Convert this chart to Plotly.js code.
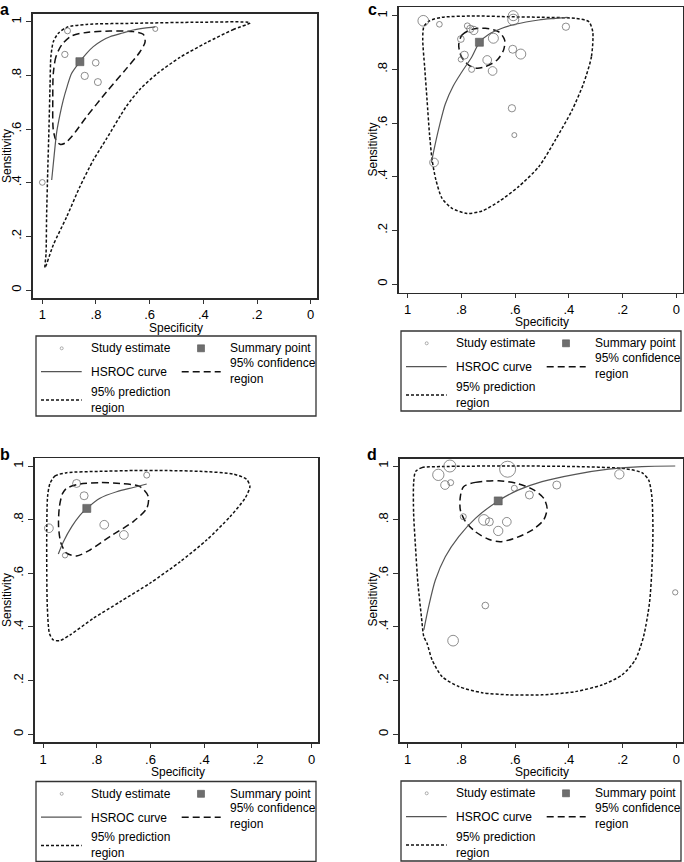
<!DOCTYPE html>
<html><head><meta charset="utf-8">
<script src="https://cdn.plot.ly/plotly-3.0.1.min.js"></script>
<style>html,body{margin:0;padding:0;background:#fff}#chart{width:684px;height:862px}</style>
</head><body><div id="chart"></div>
<script>
// ---------------- data ----------------
const tickVals = [0, 0.2, 0.4, 0.6, 0.8, 1];
const tickText = ['0', '.2', '.4', '.6', '.8', '1'];
const xTitle = 'Specificity';
const yTitle = 'Sensitivity';
const legendLabels = ['Study estimate', 'Summary point', 'HSROC curve', '95% confidence<br>region', '95% prediction<br>region'];

// Panel a
const aStudySpec = [0.906, 0.579, 0.916, 0.801, 0.842, 0.793, 1.0];
const aStudySens = [0.966, 0.973, 0.878, 0.847, 0.798, 0.775, 0.401];
const aStudyWeight = [6, 5, 6.3, 6.7, 7.3, 7, 5.7];
const aSummarySpec = [0.860];
const aSummarySens = [0.851];
const aHsrocSpec = [0.965, 0.956, 0.947, 0.935, 0.922, 0.907, 0.891, 0.860, 0.835, 0.810, 0.780, 0.748, 0.700, 0.661, 0.620, 0.579];
const aHsrocSens = [0.410, 0.500, 0.584, 0.650, 0.708, 0.760, 0.807, 0.851, 0.882, 0.907, 0.928, 0.944, 0.958, 0.969, 0.976, 0.981];
const aConfSpec = [0.928, 0.949, 0.959, 0.961, 0.959, 0.949, 0.934, 0.916, 0.891, 0.835, 0.760, 0.686, 0.636, 0.617, 0.624, 0.661, 0.748, 0.835, 0.891, 0.928];
const aConfSens = [0.913, 0.870, 0.807, 0.708, 0.596, 0.559, 0.543, 0.547, 0.571, 0.646, 0.739, 0.826, 0.888, 0.925, 0.953, 0.963, 0.965, 0.960, 0.947, 0.913];
const aPredSpec = [0.226, 0.288, 0.388, 0.487, 0.574, 0.636, 0.686, 0.760, 0.810, 0.860, 0.909, 0.959, 0.990, 0.986, 0.984, 0.980, 0.975, 0.971, 0.968, 0.959, 0.940, 0.909, 0.835, 0.661, 0.412, 0.226];
const aPredSens = [0.996, 0.971, 0.922, 0.867, 0.805, 0.748, 0.686, 0.565, 0.484, 0.385, 0.273, 0.168, 0.083, 0.137, 0.273, 0.435, 0.609, 0.770, 0.870, 0.925, 0.957, 0.979, 0.990, 0.994, 0.998, 0.996];

// Panel b
const bStudySpec = [0.614, 0.875, 0.847, 0.978, 0.772, 0.699, 0.918];
const bStudySens = [0.966, 0.935, 0.889, 0.768, 0.781, 0.743, 0.667];
const bStudyWeight = [6, 8, 8, 8.7, 8.7, 8.7, 5.3];
const bSummarySpec = [0.837];
const bSummarySens = [0.842];
const bHsrocSpec = [0.943, 0.924, 0.893, 0.862, 0.837, 0.788, 0.726, 0.664, 0.614];
const bHsrocSens = [0.672, 0.718, 0.774, 0.817, 0.842, 0.880, 0.904, 0.920, 0.933];
const bConfSpec = [0.912, 0.862, 0.788, 0.713, 0.639, 0.608, 0.614, 0.664, 0.751, 0.825, 0.875, 0.912, 0.933, 0.942, 0.939, 0.927, 0.912];
const bConfSens = [0.917, 0.933, 0.938, 0.935, 0.923, 0.886, 0.842, 0.793, 0.737, 0.687, 0.665, 0.675, 0.712, 0.774, 0.848, 0.898, 0.917];
const bPredSpec = [0.974, 0.955, 0.912, 0.788, 0.664, 0.540, 0.416, 0.292, 0.242, 0.230, 0.248, 0.304, 0.391, 0.490, 0.602, 0.713, 0.813, 0.900, 0.937, 0.962, 0.976, 0.984, 0.986, 0.986, 0.983, 0.974];
const bPredSens = [0.935, 0.963, 0.975, 0.980, 0.983, 0.983, 0.980, 0.970, 0.950, 0.923, 0.880, 0.811, 0.724, 0.643, 0.563, 0.494, 0.432, 0.370, 0.349, 0.352, 0.376, 0.476, 0.612, 0.761, 0.886, 0.935];

// Panel c
const cStudySpec = [0.942, 0.882, 0.778, 0.767, 0.754, 0.802, 0.681, 0.607, 0.607, 0.411, 0.609, 0.579, 0.789, 0.802, 0.704, 0.762, 0.684, 0.612, 0.603, 0.902];
const cStudySens = [0.981, 0.968, 0.962, 0.951, 0.945, 0.913, 0.916, 1.000, 0.985, 0.959, 0.875, 0.857, 0.853, 0.837, 0.835, 0.800, 0.794, 0.655, 0.555, 0.453];
const cStudyWeight = [10.7, 5.7, 6, 7.3, 8.3, 6.7, 10, 10, 11, 7.3, 8, 10, 8, 5.3, 8.7, 6, 8.7, 7.3, 5, 8.7];
const cSummarySpec = [0.733];
const cSummarySens = [0.901];
const cHsrocSpec = [0.912, 0.897, 0.881, 0.860, 0.831, 0.798, 0.761, 0.733, 0.699, 0.649, 0.600, 0.512, 0.450, 0.405];
const cHsrocSens = [0.452, 0.524, 0.593, 0.671, 0.737, 0.791, 0.847, 0.901, 0.930, 0.953, 0.968, 0.984, 0.990, 0.994];
const cConfSpec = [0.810, 0.798, 0.761, 0.711, 0.661, 0.639, 0.643, 0.667, 0.711, 0.742, 0.773, 0.800, 0.810];
const cConfSens = [0.891, 0.928, 0.949, 0.953, 0.940, 0.909, 0.872, 0.835, 0.810, 0.804, 0.816, 0.847, 0.891];
const cPredSpec = [0.311, 0.316, 0.345, 0.388, 0.450, 0.512, 0.587, 0.661, 0.723, 0.779, 0.835, 0.872, 0.895, 0.909, 0.919, 0.928, 0.937, 0.944, 0.940, 0.919, 0.872, 0.748, 0.624, 0.500, 0.376, 0.326, 0.311];
const cPredSens = [0.940, 0.847, 0.748, 0.648, 0.537, 0.437, 0.363, 0.307, 0.272, 0.263, 0.282, 0.319, 0.388, 0.462, 0.561, 0.686, 0.810, 0.909, 0.959, 0.981, 0.994, 0.999, 0.996, 0.994, 0.990, 0.978, 0.940];

// Panel d
const dStudySpec = [0.886, 0.843, 0.861, 0.840, 0.628, 0.603, 0.547, 0.445, 0.212, 0.793, 0.716, 0.696, 0.631, 0.663, 0.711, 0.831, 0.004];
const dStudySens = [0.967, 1.000, 0.929, 0.938, 0.988, 0.917, 0.892, 0.929, 0.969, 0.811, 0.799, 0.792, 0.792, 0.758, 0.480, 0.349, 0.529];
const dStudyWeight = [11.3, 12, 8.7, 6, 16, 6, 8, 8, 9.3, 6, 10.7, 8, 8.7, 9.3, 6.7, 10.7, 5.3];
const dSummarySpec = [0.663];
const dSummarySens = [0.870];
const dHsrocSpec = [0.940, 0.922, 0.897, 0.860, 0.810, 0.748, 0.663, 0.587, 0.500, 0.376, 0.252, 0.128, 0.004];
const dHsrocSens = [0.389, 0.476, 0.575, 0.662, 0.737, 0.805, 0.870, 0.911, 0.942, 0.969, 0.988, 0.998, 1.000];
const dConfSpec = [0.792, 0.748, 0.661, 0.593, 0.531, 0.494, 0.481, 0.494, 0.537, 0.593, 0.655, 0.699, 0.748, 0.785, 0.804, 0.804, 0.792];
const dConfSens = [0.923, 0.939, 0.945, 0.935, 0.911, 0.880, 0.842, 0.799, 0.761, 0.734, 0.718, 0.727, 0.755, 0.793, 0.836, 0.886, 0.923];
const dPredSpec = [0.971, 0.947, 0.872, 0.624, 0.376, 0.190, 0.128, 0.103, 0.091, 0.087, 0.091, 0.100, 0.122, 0.153, 0.202, 0.277, 0.376, 0.500, 0.624, 0.723, 0.810, 0.872, 0.909, 0.928, 0.940, 0.949, 0.962, 0.971, 0.978, 0.978, 0.971];
const dPredSens = [0.979, 0.994, 0.998, 1.000, 0.998, 0.990, 0.975, 0.948, 0.886, 0.761, 0.612, 0.488, 0.364, 0.277, 0.221, 0.184, 0.159, 0.147, 0.147, 0.155, 0.178, 0.215, 0.277, 0.339, 0.364, 0.439, 0.563, 0.699, 0.824, 0.935, 0.979];

// ---------------- layout helpers ----------------
const W = 684, H = 862;
const FONT = 'Liberation Sans, Arial, Helvetica, sans-serif';
const PX = x => x / W;
const PY = y => 1 - y / H;

const panels = [
  {label: 'a', ax: '', box: [33, 14, 317, 298], tx: [42.3, 310.7], ty: [21.7, 290], lab: [4, 0], xt: [176, 327.5], yt: [7, 156], leg: [36, 336],
   sSpec: aStudySpec, sSens: aStudySens, sW: aStudyWeight, mSpec: aSummarySpec, mSens: aSummarySens,
   hSpec: aHsrocSpec, hSens: aHsrocSens, cSpec: aConfSpec, cSens: aConfSens, pSpec: aPredSpec, pSens: aPredSens},
  {label: 'c', ax: '2', box: [399, 7.3, 683, 292.7], tx: [407.7, 676.3], ty: [15.7, 284], lab: [372, 0], xt: [542, 322], yt: [372.5, 150], leg: [401, 331],
   sSpec: cStudySpec, sSens: cStudySens, sW: cStudyWeight, mSpec: cSummarySpec, mSens: cSummarySens,
   hSpec: cHsrocSpec, hSens: cHsrocSens, cSpec: cConfSpec, cSens: cConfSens, pSpec: cPredSpec, pSens: cPredSens},
  {label: 'b', ax: '3', box: [35, 458.3, 317.7, 742.3], tx: [43, 311.7], ty: [466, 734.3], lab: [5, 445], xt: [177.7, 771.5], yt: [7, 600], leg: [36, 781.5],
   sSpec: bStudySpec, sSens: bStudySens, sW: bStudyWeight, mSpec: bSummarySpec, mSens: bSummarySens,
   hSpec: bHsrocSpec, hSens: bHsrocSens, cSpec: bConfSpec, cSens: bConfSens, pSpec: bPredSpec, pSens: bPredSens},
  {label: 'd', ax: '4', box: [400.3, 459, 683, 742.3], tx: [407.7, 676.3], ty: [466, 734.3], lab: [372, 445], xt: [542, 771.5], yt: [372.5, 600], leg: [401, 781],
   sSpec: dStudySpec, sSens: dStudySens, sW: dStudyWeight, mSpec: dSummarySpec, mSens: dSummarySens,
   hSpec: dHsrocSpec, hSens: dHsrocSens, cSpec: dConfSpec, cSens: dConfSens, pSpec: dPredSpec, pSens: dPredSens}
];

const traces = [];
const layout = {
  width: W, height: H, margin: {l: 0, r: 0, t: 0, b: 0},
  paper_bgcolor: '#fff', plot_bgcolor: '#fff', showlegend: false,
  font: {family: FONT, size: 12, color: '#000'},
  shapes: [], annotations: []
};

const predLine = {color: '#111', width: 1.5, dash: '3px,2px', shape: 'spline', smoothing: 0.7};
const confLine = {color: '#111', width: 1.5, dash: '7px,4px', shape: 'spline', smoothing: 0.8};
const hsrocLine = {color: '#555', width: 1.2, shape: 'spline', smoothing: 0.8};

panels.forEach(p => {
  const [l, t, r, b] = p.box;
  const ux = p.tx[1] - p.tx[0], uy = p.ty[1] - p.ty[0];
  const xr = [1 + (p.tx[0] - l) / ux, -(r - p.tx[1]) / ux];
  const yr = [-(b - p.ty[1]) / uy, 1 + (p.ty[0] - t) / uy];
  const xa = 'x' + p.ax, ya = 'y' + p.ax;
  layout['xaxis' + p.ax] = {
    domain: [PX(l), PX(r)], range: xr, anchor: ya, showgrid: false, zeroline: false,
    showline: true, mirror: true, linecolor: '#2a2a2a', linewidth: 1.6,
    ticks: 'outside', ticklen: 4, tickwidth: 1, tickcolor: '#333', ticklabelstandoff: 0,
    tickvals: tickVals, ticktext: tickText, tickfont: {family: FONT, size: 13, color: '#000'}, fixedrange: true
  };
  layout['yaxis' + p.ax] = {
    domain: [PY(b), PY(t)], range: yr, anchor: xa, showgrid: false, zeroline: false,
    showline: true, mirror: true, linecolor: '#2a2a2a', linewidth: 2,
    ticks: 'outside', ticklen: 5, tickwidth: 1, tickcolor: '#333', tickangle: -90,
    tickvals: tickVals, ticktext: tickText, tickfont: {family: FONT, size: 13, color: '#000'}, fixedrange: true
  };
  traces.push({type: 'scatter', mode: 'lines', x: p.pSpec, y: p.pSens, xaxis: xa, yaxis: ya, line: predLine, hoverinfo: 'skip'});
  traces.push({type: 'scatter', mode: 'lines', x: p.cSpec, y: p.cSens, xaxis: xa, yaxis: ya, line: confLine, hoverinfo: 'skip'});
  traces.push({type: 'scatter', mode: 'lines', x: p.hSpec, y: p.hSens, xaxis: xa, yaxis: ya, line: hsrocLine, hoverinfo: 'skip'});
  traces.push({type: 'scatter', mode: 'markers', x: p.sSpec, y: p.sSens, xaxis: xa, yaxis: ya,
    marker: {symbol: 'circle-open', size: p.sW, color: '#5e5e5e', line: {width: 1}}, cliponaxis: false});
  traces.push({type: 'scatter', mode: 'markers', x: p.mSpec, y: p.mSens, xaxis: xa, yaxis: ya,
    marker: {symbol: 'square', size: 8, color: '#6e6e6e', line: {color: '#555', width: 0.6}}});

  // panel letter and axis titles
  layout.annotations.push({text: '<b>' + p.label + '</b>', xref: 'paper', yref: 'paper', x: PX(p.lab[0]), y: PY(p.lab[1]),
    xanchor: 'center', yanchor: 'top', showarrow: false, borderpad: 0, font: {family: FONT, size: 16, color: '#000'}});
  layout.annotations.push({text: xTitle, xref: 'paper', yref: 'paper', x: PX(p.xt[0]), y: PY(p.xt[1]),
    xanchor: 'center', yanchor: 'middle', showarrow: false, borderpad: 0, font: {family: FONT, size: 12}});
  layout.annotations.push({text: yTitle, xref: 'paper', yref: 'paper', x: PX(p.yt[0]), y: PY(p.yt[1]), textangle: -90,
    xanchor: 'center', yanchor: 'middle', showarrow: false, borderpad: 0, font: {family: FONT, size: 12}});

  // legend (drawn box)
  const [bx, by] = p.leg;
  const S = layout.shapes;
  S.push({type: 'rect', xref: 'paper', yref: 'paper', x0: PX(bx), x1: PX(bx + 280), y0: PY(by), y1: PY(by + 80),
    line: {color: '#333', width: 1.3}, fillcolor: 'rgba(0,0,0,0)'});
  S.push({type: 'circle', xref: 'paper', yref: 'paper', x0: PX(bx + 24.2), x1: PX(bx + 27.2), y0: PY(by + 10.8), y1: PY(by + 13.8),
    line: {color: '#999', width: 0.8}, fillcolor: 'rgba(0,0,0,0)'});
  S.push({type: 'rect', xref: 'paper', yref: 'paper', x0: PX(bx + 161.5), x1: PX(bx + 168.5), y0: PY(by + 8.8), y1: PY(by + 15.8),
    line: {color: '#555', width: 0.6}, fillcolor: '#6e6e6e'});
  S.push({type: 'line', xref: 'paper', yref: 'paper', x0: PX(bx + 5), x1: PX(bx + 45.7), y0: PY(by + 35.7), y1: PY(by + 35.7),
    line: {color: '#555', width: 1.2}});
  S.push({type: 'line', xref: 'paper', yref: 'paper', x0: PX(bx + 145.7), x1: PX(bx + 184.7), y0: PY(by + 35.7), y1: PY(by + 35.7),
    line: {color: '#111', width: 1.5, dash: '7px,4px'}});
  S.push({type: 'line', xref: 'paper', yref: 'paper', x0: PX(bx + 5), x1: PX(bx + 45.7), y0: PY(by + 64), y1: PY(by + 64),
    line: {color: '#111', width: 1.5, dash: '3px,2px'}});
  const txt = [[54, 12.3, 0], [193.3, 12.3, 1], [54, 36, 2], [193.3, 34.8, 3], [54, 63.6, 4]];
  txt.forEach(([dx, dy, i]) => {
    layout.annotations.push({text: legendLabels[i], xref: 'paper', yref: 'paper', x: PX(bx + dx), y: PY(by + dy),
      xanchor: 'left', yanchor: 'middle', align: 'left', showarrow: false, font: {family: FONT, size: 12, color: '#000'}, borderpad: 0});
  });
});

Plotly.newPlot('chart', traces, layout, {staticPlot: true, displayModeBar: false});
</script>
</body></html>
